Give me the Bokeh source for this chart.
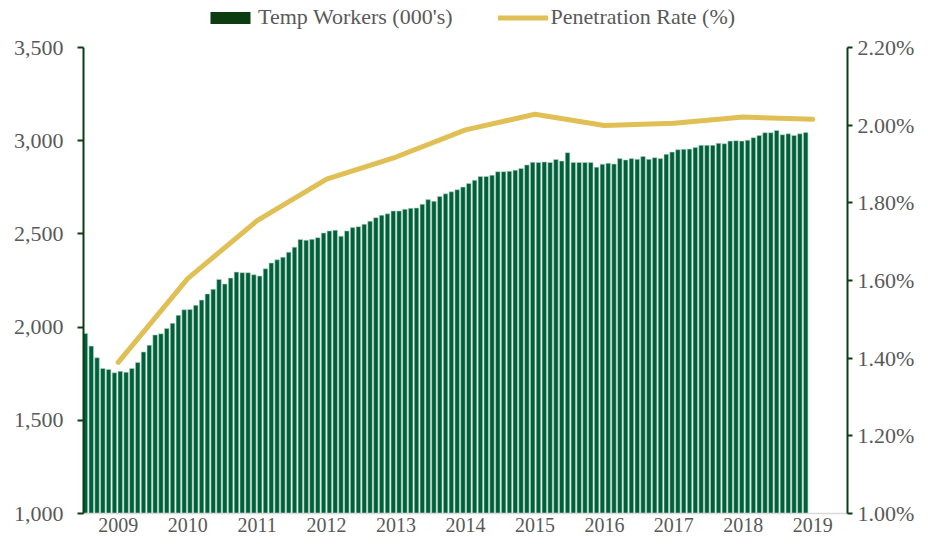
from bokeh.plotting import figure
from bokeh.models import (Range1d, LinearAxis, FixedTicker, NumeralTickFormatter,
                          PrintfTickFormatter, Legend, LegendItem, ColumnDataSource)
from bokeh.embed import file_html
from bokeh.resources import INLINE

# Monthly temp workers (000's)
temp_workers = [
    1966, 1898, 1836, 1778, 1773, 1755, 1763, 1758, 1778, 1810,
    1867, 1903, 1958, 1964, 1992, 2020, 2063, 2093, 2095, 2117,
    2145, 2178, 2203, 2256, 2231, 2263, 2295, 2292, 2292, 2281,
    2274, 2313, 2344, 2361, 2375, 2402, 2429, 2470, 2466, 2471,
    2480, 2505, 2516, 2520, 2488, 2516, 2534, 2539, 2552, 2568,
    2587, 2600, 2608, 2623, 2623, 2632, 2637, 2639, 2659, 2684,
    2675, 2701, 2715, 2726, 2737, 2751, 2771, 2788, 2808, 2808,
    2815, 2834, 2834, 2836, 2842, 2851, 2870, 2884, 2883, 2886,
    2883, 2899, 2891, 2936, 2883, 2883, 2883, 2883, 2858, 2874,
    2879, 2875, 2904, 2897, 2904, 2900, 2915, 2900, 2909, 2904,
    2927, 2939, 2952, 2954, 2955, 2964, 2975, 2975, 2975, 2986,
    2984, 2998, 3000, 2998, 3003, 3016, 3028, 3043, 3043, 3055,
    3032, 3037, 3028, 3037, 3044,
]
month_index = list(range(len(temp_workers)))

# Annual penetration rate (%)
years = [2009, 2010, 2011, 2012, 2013, 2014, 2015, 2016, 2017, 2018, 2019]
penetration_rate = [1.389, 1.605, 1.754, 1.861, 1.918, 1.988, 2.028, 1.999, 2.005, 2.021, 2.015]

left_ticks = [1000, 1500, 2000, 2500, 3000, 3500]
right_ticks = [1.0, 1.2, 1.4, 1.6, 1.8, 2.0, 2.2]

FONT = "Liberation Serif"
TXT = "#595959"
AXC = "#0E3B12"

# layout in pixels: frame spans the full height above the x axis; the axes
# themselves are bounded so the top area holds the legend
H, BOTTOM = 540, 27
FRAME_H = H - BOTTOM
TOP_PAD = 47          # pixels between frame top and the top tick
AXIS_PX = FRAME_H - TOP_PAD
l_lo, l_hi = left_ticks[0], left_ticks[-1]
r_lo, r_hi = right_ticks[0], right_ticks[-1]
l_top = l_hi + TOP_PAD * (l_hi - l_lo) / AXIS_PX
r_top = r_hi + TOP_PAD * (r_hi - r_lo) / AXIS_PX

p = figure(width=917, height=H, output_backend="svg", toolbar_location=None,
           x_range=Range1d(-0.33, 131.2), y_range=Range1d(l_lo, l_top),
           x_axis_location=None,
           min_border_left=83, min_border_right=68, min_border_top=0, min_border_bottom=BOTTOM)
p.outline_line_color = None
p.xgrid.visible = False
p.ygrid.visible = False
p.extra_x_ranges = {"years": Range1d(2008.5, 2019.5)}
p.extra_y_ranges = {"pct": Range1d(r_lo, r_top)}

bar_src = ColumnDataSource(dict(x=month_index, top=temp_workers))
bars = p.vbar(x="x", top="top", bottom=l_lo, width=0.78, source=bar_src,
              fill_color="#00603C", line_color="#B5D5C2", line_width=0.6)

# legend swatch only (placed outside the visible range)
legend_bar = p.vbar(x=[-50], top=[l_lo], bottom=[l_lo], width=0.78,
                    fill_color="#0B3D10", line_color=None)

line_src = ColumnDataSource(dict(x=years, y=penetration_rate))
line = p.line(x="x", y="y", source=line_src, x_range_name="years", y_range_name="pct",
              line_color="#E0BF55", line_width=5, line_cap="round", line_join="round")

def style_axis(ax, size="22px"):
    ax.major_label_text_font = FONT
    ax.major_label_text_font_size = size
    ax.major_label_text_color = TXT
    ax.minor_tick_line_color = None

ly = p.yaxis[0]
ly.ticker = FixedTicker(ticks=left_ticks)
ly.formatter = NumeralTickFormatter(format="0,0")
ly.bounds = (l_lo, l_hi)
style_axis(ly)
ly.axis_line_color = AXC
ly.axis_line_width = 2
ly.major_tick_line_color = AXC
ly.major_tick_line_width = 2
ly.major_tick_out = 6
ly.major_tick_in = 0
ly.major_label_standoff = 14

ry = LinearAxis(y_range_name="pct", ticker=FixedTicker(ticks=right_ticks),
                formatter=PrintfTickFormatter(format="%.2f%%"), bounds=(r_lo, r_hi))
style_axis(ry)
ry.axis_line_color = AXC
ry.axis_line_width = 2
ry.major_tick_line_color = AXC
ry.major_tick_line_width = 2
ry.major_tick_out = 5
ry.major_tick_in = 0
ry.major_label_standoff = 5
p.add_layout(ry, "right")

bx = LinearAxis(x_range_name="years", ticker=FixedTicker(ticks=years),
                formatter=PrintfTickFormatter(format="%d"))
style_axis(bx, "20px")
bx.axis_line_color = "#D9D9D9"
bx.axis_line_width = 1.5
bx.major_tick_line_color = None
bx.major_tick_out = 0
bx.major_tick_in = 0
bx.major_label_standoff = 4
p.add_layout(bx, "below")

legend = Legend(items=[LegendItem(label="Temp Workers (000's)", renderers=[legend_bar]),
                       LegendItem(label="Penetration Rate (%)", renderers=[line])],
                orientation="horizontal", location=(122, FRAME_H - 30),
                glyph_width=50, glyph_height=15, label_standoff=3, spacing=45,
                padding=0, margin=0, border_line_color=None, background_fill_alpha=0,
                label_text_font=FONT, label_text_font_size="22px", label_text_color=TXT)
p.add_layout(legend, "center")

open("out.html", "w").write(file_html(p, INLINE))
